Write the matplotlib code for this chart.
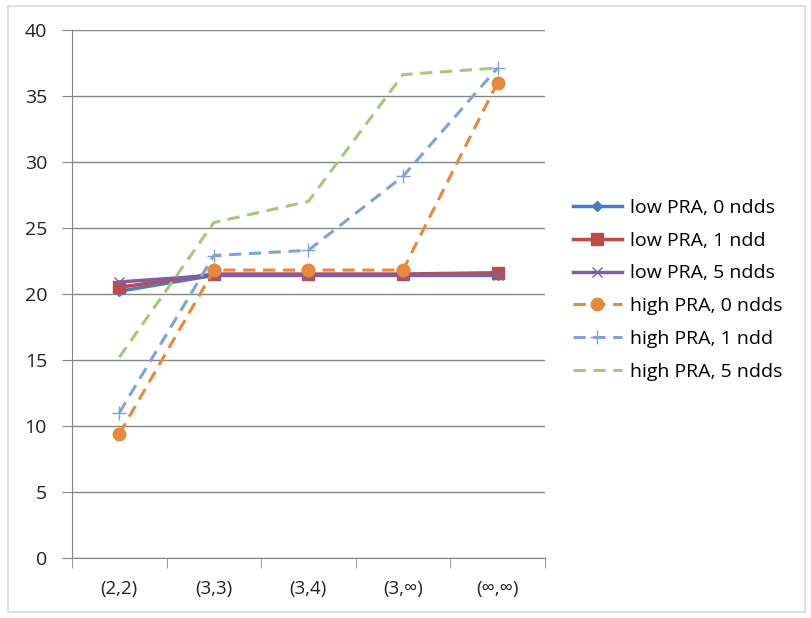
import matplotlib
matplotlib.use("Agg")
import matplotlib.pyplot as plt
from matplotlib.patches import Rectangle

plt.rcParams['font.family'] = ['Open Sans', 'DejaVu Sans']

categories = ['(2,2)', '(3,3)', '(3,4)', '(3,\u221e)', '(\u221e,\u221e)']

low_0 = [20.2, 21.4, 21.4, 21.4, 21.4]
low_1 = [20.5, 21.5, 21.5, 21.5, 21.6]
low_5 = [20.9, 21.4, 21.4, 21.4, 21.4]
high_0 = [9.4, 21.8, 21.8, 21.8, 36.0]
high_1 = [11.0, 22.9, 23.3, 28.9, 37.1]
high_5 = [15.2, 25.4, 27.0, 36.6, 37.1]

labels = ['low PRA, 0 ndds', 'low PRA, 1 ndd', 'low PRA, 5 ndds',
          'high PRA, 0 ndds', 'high PRA, 1 ndd', 'high PRA, 5 ndds']

fig = plt.figure(figsize=(8.11, 6.18), dpi=100)
ax = fig.add_axes([0.0888, 0.097, 0.583, 0.855])

x = range(len(categories))
ax.plot(x, low_0, color='#4A7EBB', lw=2.5, marker='D', ms=5, label=labels[0], zorder=3)
ax.plot(x, low_1, color='#BE4B48', lw=2.5, marker='s', ms=8, label=labels[1], zorder=3)
ax.plot(x, low_5, color='#7D60A0', lw=2.5, marker='x', ms=7, mew=1, label=labels[2], zorder=4)
ax.plot(x, high_0, color='#E8883A', lw=2.2, ls=(0, (4, 2.5)), marker='o', ms=9,
        label=labels[3], zorder=5)
ax.plot(x, high_1, color='#7FA3D8', lw=2.2, ls=(0, (4, 2.5)), marker='+', ms=10, mew=1,
        label=labels[4], zorder=5)
ax.plot(x, high_5, color='#A5C97A', lw=2.2, ls=(0, (4, 2.5)), label=labels[5], zorder=5)

ax.set_ylim(0, 40)
ax.set_yticks(range(0, 41, 5))
ax.set_xlim(-0.5, 4.5)
ax.set_xticks(x)
ax.set_xticklabels(categories)
ax.set_xticks([i - 0.5 for i in range(6)], minor=True)
ax.tick_params(axis='x', which='major', length=0, pad=16, labelsize=13.5, labelcolor='#222222')
ax.tick_params(axis='x', which='minor', length=7, color='#868686', direction='out')
ax.tick_params(axis='y', length=7, pad=11, color='#868686', labelsize=14, labelcolor='#222222')
ax.yaxis.grid(True, color='#868686', lw=1)
ax.set_axisbelow(True)
for s in ['top', 'right']:
    ax.spines[s].set_visible(False)
for s in ['left', 'bottom']:
    ax.spines[s].set_color('#868686')

ax.legend(loc='center left', bbox_to_anchor=(0.7065, 0.531), bbox_transform=fig.transFigure,
          frameon=False, fontsize=14, labelspacing=0.76, handlelength=2.5,
          handletextpad=0.45, borderaxespad=0, borderpad=0)

fig.patches.append(Rectangle((0.01, 0.01), 0.983, 0.98, transform=fig.transFigure,
                             fill=False, edgecolor='#D9D9D9', lw=1.2))

fig.savefig('out.png', dpi=100, facecolor='white')
